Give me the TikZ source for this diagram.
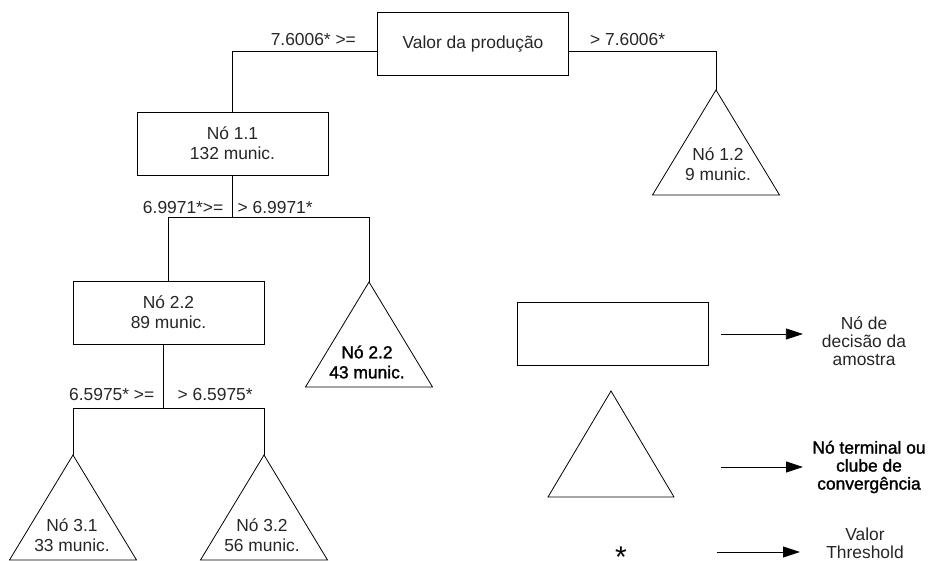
\documentclass[tikz,border=0pt]{standalone}
\usepackage{fontspec}
\setmainfont{Liberation Sans}
\newfontfamily\heavyfont[FakeBold=1.5]{Liberation Sans}
\usetikzlibrary{arrows.meta, positioning}

\newcommand\treefont{\fontsize{17.4}{20}\selectfont}
\newcommand\legfont{\fontsize{17.4}{18}\selectfont}

\begin{document}
\begin{tikzpicture}[
        x=1pt, y=-1pt,
        every node/.style={font=\treefont, text=black!85, align=center},
        decision/.style={draw=black, line width=0.8pt, minimum width=191pt, minimum height=63pt, inner sep=0pt},
        branch/.style={line width=0.8pt, black},
        terminal/.style={line width=0.8pt, black, line join=miter},
        splitlabel/.style={inner sep=0pt, anchor=base east},
        legarrow/.style={line width=0.8pt, black, -{Triangle[length=17pt, width=11pt]}}
    ]
    \useasboundingbox (0,0) rectangle (931,561);

    % Decision nodes
    \node[decision] (root) at (473,44) {Valor da produção};
    \node[decision] (n11) at (232.5,143.5) {Nó 1.1\\132 munic.};
    \node[decision] (n22) at (168.5,312.5) {Nó 2.2\\89 munic.};

    % Terminal nodes
    \coordinate (t12) at (716,90);
    \coordinate (t22) at (369,282);
    \coordinate (t31) at (73,455);
    \coordinate (t32) at (264,455);
    \foreach \t in {t12,t22,t31,t32}
        \draw[terminal] (\t) -- ++(-63.5,105) -- ++(127,0) -- cycle;
    \node (t12txt) at (718,164) {Nó 1.2\\9 munic.};
    \node[font=\heavyfont\treefont, text=black] (t22txt) at (367,362) {Nó 2.2\\43 munic.};
    \node (t31txt) at (72,535) {Nó 3.1\\33 munic.};
    \node (t32txt) at (262,535) {Nó 3.2\\56 munic.};

    % Branches
    \draw[branch] ([yshift=-7pt]root.west) coordinate (rw) -| (n11.north);
    \draw[branch] ([yshift=-7pt]root.east) coordinate (re) -| (t12);
    \node[splitlabel] (c1l) at ([xshift=-21pt, yshift=5pt]rw) {7.6006* >=};
    \node[splitlabel, anchor=base west] (c1r) at ([xshift=21pt, yshift=5pt]re) {> 7.6006*};

    \draw[branch] (n11.south) -- ++(0,42) coordinate (s1);
    \draw[branch] (t22) |- (s1) -| (n22.north);
    \node[splitlabel] (c2l) at ([xshift=-9pt, yshift=4pt]s1) {6.9971*>=};
    \node[splitlabel, anchor=base west] (c2r) at ([xshift=5pt, yshift=4pt]s1) {> 6.9971*};

    \draw[branch] ([xshift=-5pt]n22.south) -- ++(0,64) coordinate (s2);
    \draw[branch] (t31) |- (s2) -| (t32);
    \node[splitlabel] (c3l) at ([xshift=-9pt, yshift=8pt]s2) {6.5975* >=};
    \node[splitlabel, anchor=base west] (c3r) at ([xshift=14pt, yshift=8pt]s2) {> 6.5975*};

    % Legend
    \node[decision] (legbox) at (613,334) {};
    \coordinate (legtri) at (611,391);
    \draw[terminal] (legtri) -- ++(-63,106) -- ++(126,0) -- cycle;
    \node[font=\fontsize{30}{30}\selectfont, text=black, inner sep=0pt] (legstar) at (621,555) {\smash{\raisebox{-12pt}{*}}};

    \node[font=\legfont] (legdec) at (864,341) {Nó de\\decisão da\\amostra};
    \node[font=\heavyfont\legfont, text=black] (legterm) at (869,467) {Nó terminal ou\\clube de\\convergência};
    \node[font=\legfont] (legthr) at (865,543) {Valor\\Threshold};

    \draw[legarrow] ([xshift=12pt]legbox.east) -- ++(82,0);
    \draw[legarrow] ([xshift=110pt]legtri |- legterm) -- ++(82,0);
    \draw[legarrow] ([xshift=96pt, yshift=3pt]legstar.center) -- ++(83,0);
\end{tikzpicture}
\end{document}
